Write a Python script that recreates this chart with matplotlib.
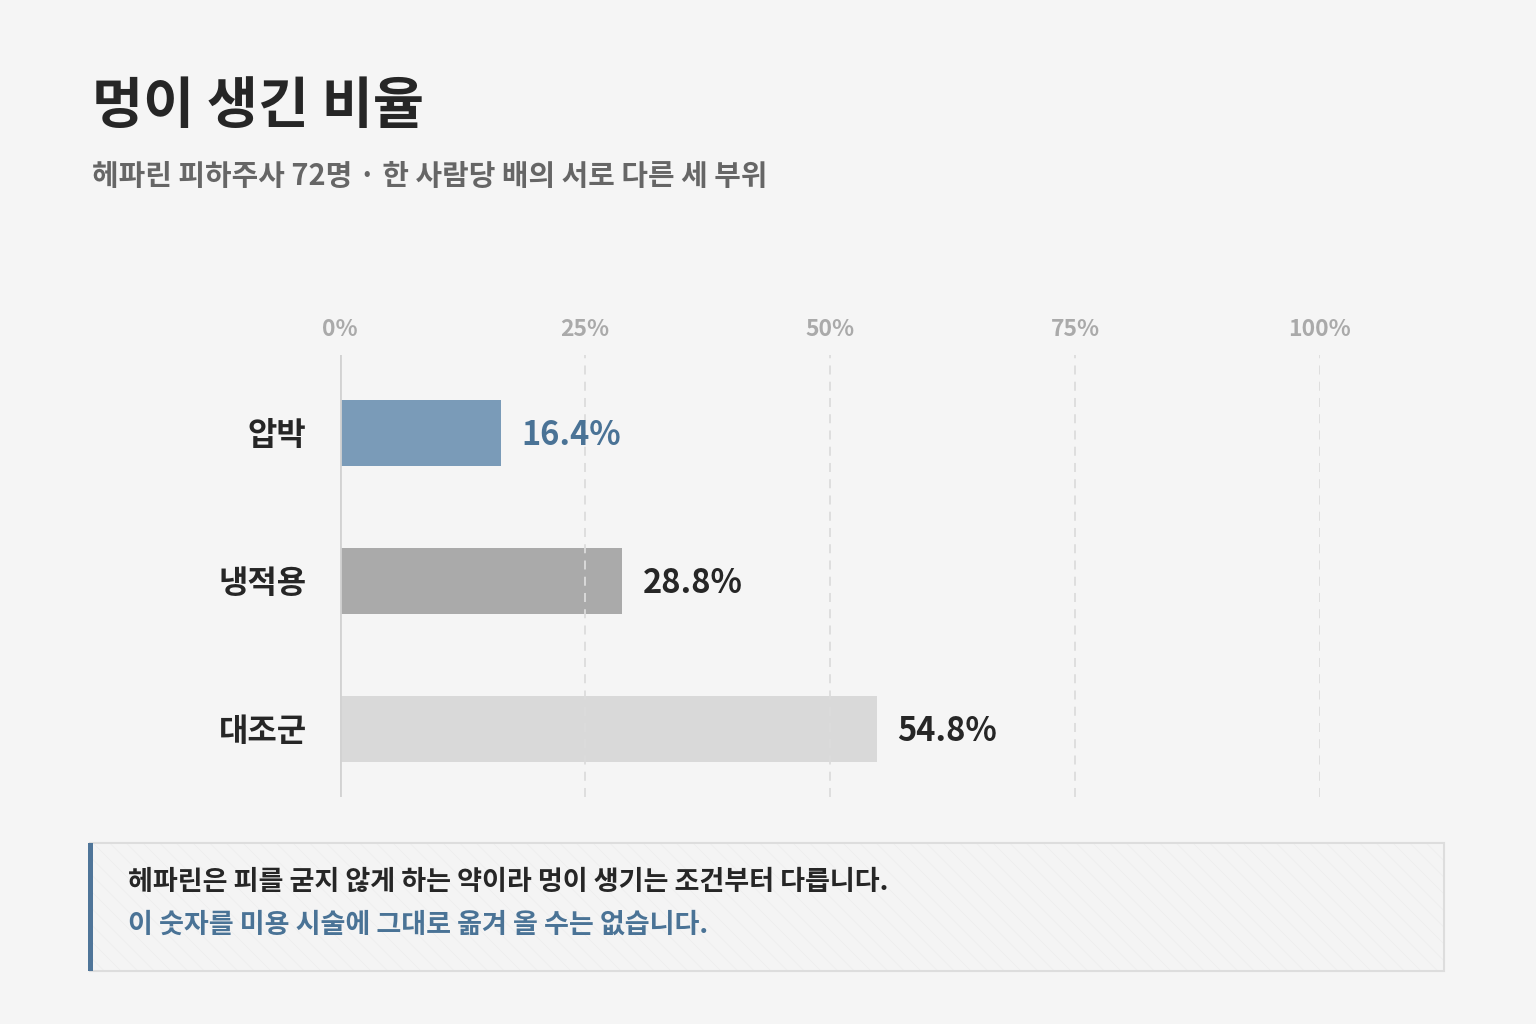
import matplotlib
matplotlib.use("Agg")
import matplotlib.pyplot as plt
from matplotlib.patches import Rectangle

plt.rcParams['font.family'] = ['Noto Sans CJK KR', 'DejaVu Sans']
plt.rcParams['hatch.linewidth'] = 0.4

# data
categories = ['압박', '냉적용', '대조군']
values = [16.4, 28.8, 54.8]
bar_colors = ['#7a9bb8', '#aaaaaa', '#d9d9d9']
value_colors = ['#4a7396', '#262626', '#262626']
ticks = [0, 25, 50, 75, 100]
tick_labels = ['0%', '25%', '50%', '75%', '100%']

title = '멍이 생긴 비율'
subtitle = '헤파린 피하주사 72명 · 한 사람당 배의 서로 다른 세 부위'
note1 = '헤파린은 피를 굳지 않게 하는 약이라 멍이 생기는 조건부터 다릅니다.'
note2 = '이 숫자를 미용 시술에 그대로 옮겨 올 수는 없습니다.'

bg = '#f5f5f5'
fig = plt.figure(figsize=(15.36, 10.24), dpi=100, facecolor=bg)

fig.text(92/1536, 1 - 107/1024, title, fontsize=40, fontweight='black',
         color='#262626', va='center', ha='left')
fig.text(92/1536, 1 - 176/1024, subtitle, fontsize=20.8, fontweight='heavy',
         color='#666666', va='center', ha='left')

ax = fig.add_axes([340/1536, 1 - 797/1024, 980/1536, 442/1024])
ax.set_facecolor('none')
ypos = list(range(len(categories)))
ax.barh(ypos, values, height=0.45, color=bar_colors, zorder=1)
ax.set_xlim(0, 100)
ax.set_ylim(2.46, -0.527)

for t in ticks[1:]:
    ax.axvline(t, color='#dcdcdc', lw=1.3, ls=(0, (5, 4)), zorder=2)
ax.axvline(0, color='#d2d2d2', lw=2, zorder=3)

for s in ax.spines.values():
    s.set_visible(False)
ax.set_xticks(ticks)
ax.set_xticklabels(tick_labels, fontsize=16.5, fontweight='heavy', color='#aaaaaa')
ax.xaxis.tick_top()
ax.tick_params(axis='x', length=0, pad=10)
ax.set_yticks(ypos)
ax.set_yticklabels(categories, fontsize=23, fontweight='heavy', color='#262626')
ax.tick_params(axis='y', length=0, pad=24)

for y, v, c in zip(ypos, values, value_colors):
    ax.text(v + 2.1, y + 0.02, f'{v}%', fontsize=23.5, fontweight='heavy', color=c,
            va='center', ha='left')

# note box
bx, by, bw, bh = 90/1536, 1 - 971/1024, 1354/1536, 128/1024
fig.patches.append(Rectangle((bx, by), bw, bh, transform=fig.transFigure,
                             facecolor='#f4f4f4', edgecolor='#ebebeb', lw=0,
                             hatch='\\\\', zorder=0))
fig.patches.append(Rectangle((bx, by), bw, bh, transform=fig.transFigure,
                             facecolor='none', edgecolor='#dddddd', lw=1.5, zorder=1))
fig.patches.append(Rectangle((bx - 2/1536, by), 5/1536, bh, transform=fig.transFigure,
                             facecolor='#4f7599', edgecolor='none', zorder=2))
fig.text(128/1536, 1 - 882/1024, note1, fontsize=19.5, fontweight='heavy',
         color='#262626', va='center', ha='left')
fig.text(128/1536, 1 - 925/1024, note2, fontsize=19.5, fontweight='heavy',
         color='#4a7396', va='center', ha='left')

fig.savefig('out.png', dpi=100, facecolor=bg)
